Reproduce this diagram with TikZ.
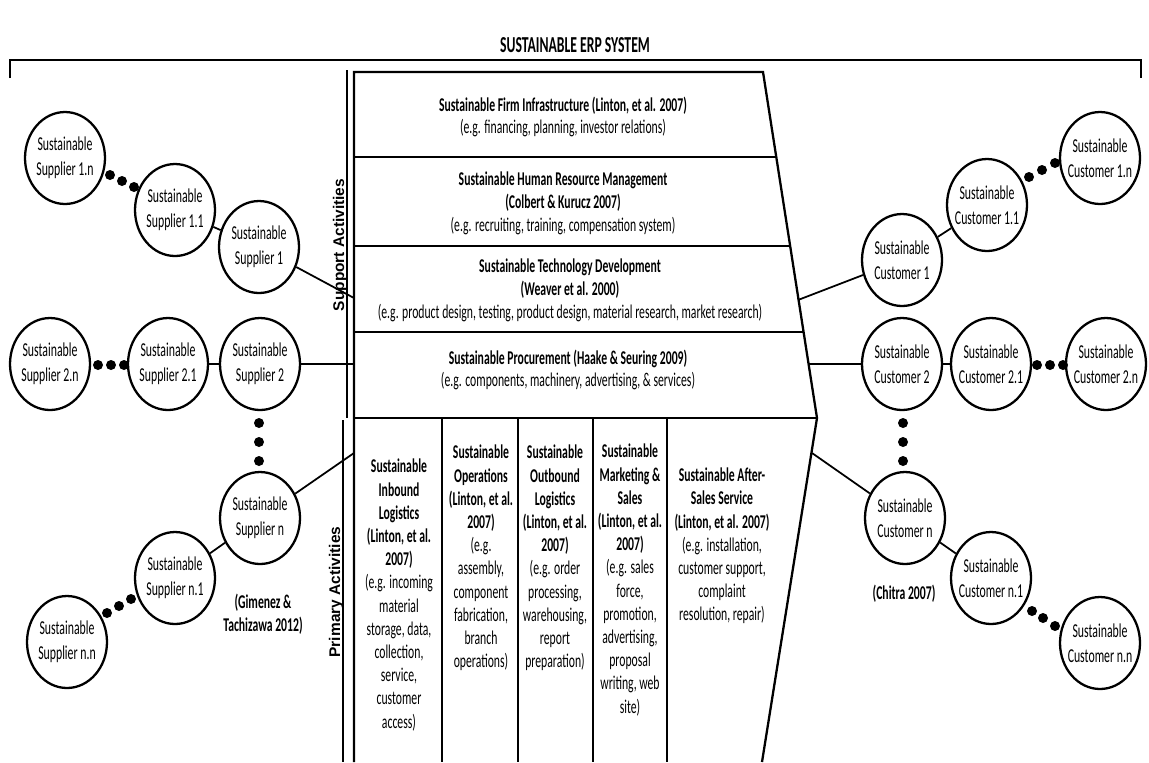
\documentclass[tikz,border=0pt]{standalone}
\usepackage{fontspec}
\setmainfont{Carlito}[FakeStretch=0.6]
\newfontfamily\sidefont{Liberation Sans}
\usetikzlibrary{shapes.geometric}

\begin{document}
\begin{tikzpicture}[x=0.02cm, y=-0.02cm,
    party/.style={draw, ellipse, line width=1.3pt, minimum width=1.6cm, minimum height=1.84cm, inner xsep=-3pt, inner ysep=0pt, align=center, font=\fontsize{11.2}{14}\selectfont},
    rowtext/.style={align=center, font=\fontsize{11.1}{13}\selectfont},
    coltext/.style={align=center, font=\fontsize{11.1}{13.2}\selectfont},
    side/.style={rotate=90, font=\sidefont\bfseries\fontsize{8.8}{10}\selectfont},
    link/.style={line width=1pt},
    frame/.style={line width=1.3pt}
  ]
    \useasboundingbox (0,0) rectangle (1149,762);

    % title and bracket
    \node[font=\bfseries\fontsize{13}{15}\selectfont] (title) at (575,45) {SUSTAINABLE ERP SYSTEM};
    \draw[frame] (10,78) -- (10,60) -- (1141,60) -- (1141,78);

    % value chain block
    \coordinate (tl) at (354,72);
    \coordinate (tr) at (763,72);
    \coordinate (apex) at (817,418);
    \coordinate (br) at (762,762);
    \coordinate (bl) at (354,762);
    \draw[frame] (bl) -- (tl) -- (tr) -- (apex) -- (br);
    \draw[frame] (354,157) -- (776,157);
    \draw[frame] (354,246) -- (790,246);
    \draw[frame] (354,332) -- (804,332);
    \draw[frame] (354,418) -- (apex);
    \foreach \cx in {442,518,593,667}
      \draw[link] (\cx,418) -- (\cx,762);
    \draw[frame] (347,70) -- (347,418);
    \draw[frame] (343,420) -- (343,762);
    \node[side] (support) at (340,245) {Support Activities};
    \node[side] (primary) at (336,592) {Primary Activities};

    \node[rowtext] (infra) at (563,117) {\textbf{Sustainable Firm Infrastructure (Linton, et al. 2007)}\\(e.g. financing, planning, investor relations)};
    \node[rowtext] (hrm) at (563,203) {\textbf{Sustainable Human Resource Management}\\\textbf{(Colbert \& Kurucz 2007)}\\(e.g. recruiting, training, compensation system)};
    \node[rowtext] (tech) at (570,290) {\textbf{Sustainable Technology Development}\\\textbf{(Weaver et al. 2000)}\\(e.g. product design, testing, product design, material research, market research)};
    \node[rowtext] (proc) at (568,370) {\textbf{Sustainable Procurement (Haake \& Seuring 2009)}\\(e.g. components, machinery, advertising, \& services)};

    \node[coltext] (inbound) at (399,595) {\textbf{Sustainable}\\\textbf{Inbound}\\\textbf{Logistics}\\\textbf{(Linton, et al.}\\\textbf{2007)}\\(e.g. incoming\\material\\storage, data,\\collection,\\service,\\customer\\access)};
    \node[coltext] (ops) at (481,558) {\textbf{Sustainable}\\\textbf{Operations}\\\textbf{(Linton, et al.}\\\textbf{2007)}\\(e.g.\\assembly,\\component\\fabrication,\\branch\\operations)};
    \node[coltext] (outbound) at (555,558) {\textbf{Sustainable}\\\textbf{Outbound}\\\textbf{Logistics}\\\textbf{(Linton, et al.}\\\textbf{2007)}\\(e.g. order\\processing,\\warehousing,\\report\\preparation)};
    \node[coltext] (market) at (630,580) {\textbf{Sustainable}\\\textbf{Marketing \&}\\\textbf{Sales}\\\textbf{(Linton, et al.}\\\textbf{2007)}\\(e.g. sales\\force,\\promotion,\\advertising,\\proposal\\writing, web\\site)};
    \node[coltext] (after) at (722,546) {\textbf{Sustainable After-}\\\textbf{Sales Service}\\\textbf{(Linton, et al. 2007)}\\(e.g. installation,\\customer support,\\complaint\\resolution, repair)};

    % suppliers
    \node[party] (s1n) at (65,158) {Sustainable\\Supplier 1.n};
    \node[party] (s11) at (175,210) {Sustainable\\Supplier 1.1};
    \node[party] (s1) at (259,247) {Sustainable\\Supplier 1};
    \node[party] (s2n) at (50,364) {Sustainable\\Supplier 2.n};
    \node[party] (s21) at (168,364) {Sustainable\\Supplier 2.1};
    \node[party] (s2) at (260,364) {Sustainable\\Supplier 2};
    \node[party] (sn) at (260,518) {Sustainable\\Supplier n};
    \node[party] (sn1) at (175,578) {Sustainable\\Supplier n.1};
    \node[party] (snn) at (67,642) {Sustainable\\Supplier n.n};
    \node[font=\bfseries\fontsize{11.1}{13}\selectfont, align=center] (gimenez) at (263,614) {(Gimenez \&\\Tachizawa 2012)};

    % customers
    \node[party] (c1n) at (1100,158) {Sustainable\\Customer 1.n};
    \node[party] (c11) at (987,205) {Sustainable\\Customer 1.1};
    \node[party] (c1) at (902,260) {Sustainable\\Customer 1};
    \node[party] (c2) at (902,364) {Sustainable\\Customer 2};
    \node[party] (c21) at (991,364) {Sustainable\\Customer 2.1};
    \node[party] (c2n) at (1106,364) {Sustainable\\Customer 2.n};
    \node[party] (cn) at (905,518) {Sustainable\\Customer n};
    \node[party] (cn1) at (991,578) {Sustainable\\Customer n.1};
    \node[party] (cnn) at (1100,643) {Sustainable\\Customer n.n};
    \node[font=\bfseries\fontsize{11.1}{13}\selectfont] (chitra) at (904,594) {(Chitra 2007)};

    % ellipsis dots
    \foreach \p in {(110,175),(122,181),(134,187),(98,365),(111,365),(124,365),
                    (259,423),(259,442),(259,461),(107,613),(119,606),(131,599),
                    (1029,177),(1042,170),(1055,163),(1037,365),(1050,365),(1063,365),
                    (903,423),(903,442),(903,461),(1032,611),(1043,618),(1055,626)}
      \fill \p circle (0.1cm);

    % links into the chain
    \coordinate (s1in) at (354,298);
    \coordinate (s2in) at (354,364);
    \coordinate (snin) at (354,453);
    \coordinate (c1in) at (798,300);
    \coordinate (c2in) at (808,364);
    \coordinate (cnin) at (812,453);
    \draw[link] (s11) -- (s1);
    \draw[link] (s1) -- (s1in);
    \draw[link] (s21) -- (s2);
    \draw[link] (s2) -- (s2in);
    \draw[link] (sn) -- (sn1);
    \draw[link] (sn) -- (snin);
    \draw[link] (c11) -- (c1);
    \draw[link] (c1) -- (c1in);
    \draw[link] (c21) -- (c2);
    \draw[link] (c2) -- (c2in);
    \draw[link] (cn) -- (cn1);
    \draw[link] (cn) -- (cnin);
  \end{tikzpicture}
\end{document}
